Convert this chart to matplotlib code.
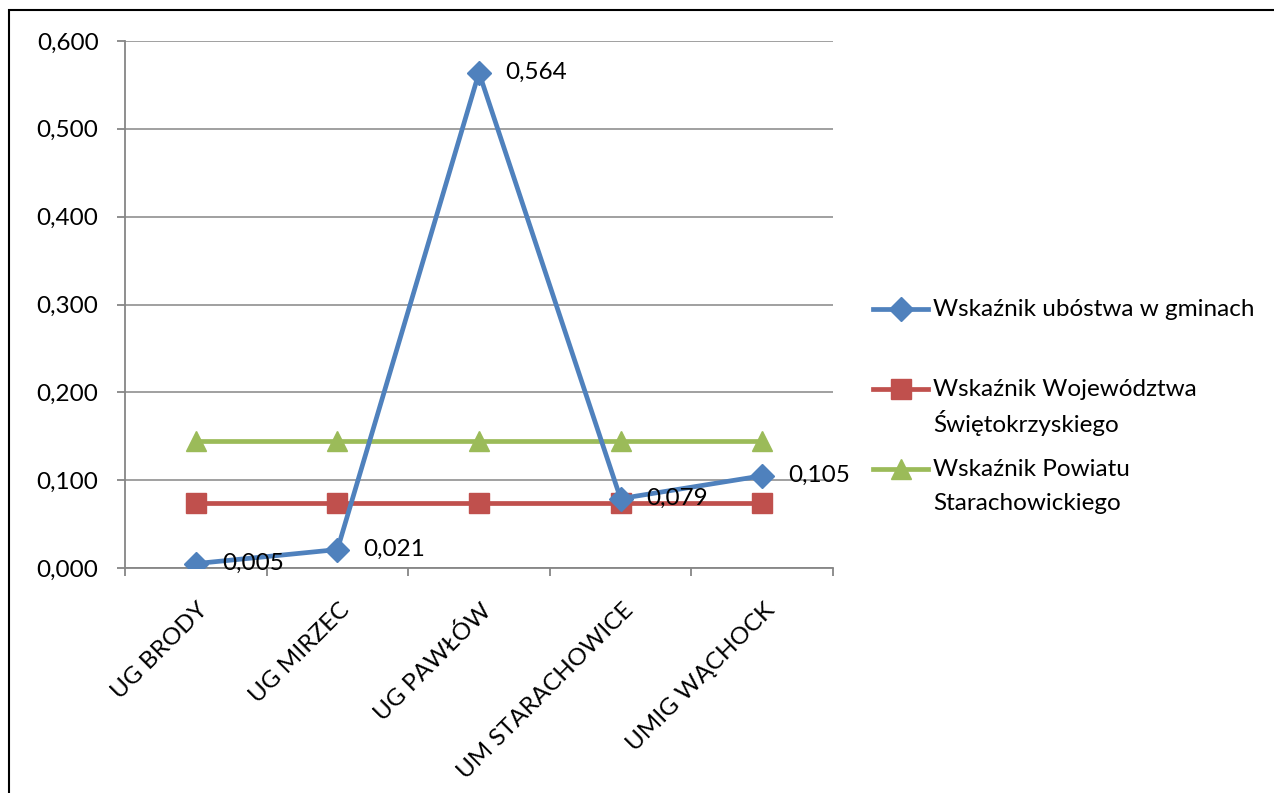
import matplotlib
matplotlib.use("Agg")
import matplotlib.pyplot as plt
from matplotlib.lines import Line2D
from matplotlib.patches import Rectangle
from matplotlib.ticker import FuncFormatter, FixedLocator
from matplotlib.transforms import ScaledTranslation

categories = ["UG BRODY", "UG MIRZEC", "UG PAWŁÓW", "UM STARACHOWICE", "UMIG WĄCHOCK"]
gminy = [0.005, 0.021, 0.564, 0.079, 0.105]
wojewodztwo = [0.074, 0.074, 0.074, 0.074, 0.074]
powiat = [0.145, 0.145, 0.145, 0.145, 0.145]
series_labels = ["Wskaźnik ubóstwa w gminach",
                 "Wskaźnik Województwa\nŚwiętokrzyskiego",
                 "Wskaźnik Powiatu\nStarachowickiego"]
yticks = [0.0, 0.1, 0.2, 0.3, 0.4, 0.5, 0.6]

BLUE = "#4F81BD"
RED = "#C0504D"
GREEN = "#9BBB59"
GRID = "#868686"
FONT = "Lato"
FS = 17.5
LW = 3.4

plt.rcParams["font.family"] = [FONT, "DejaVu Sans"]

W, H = 1274, 793
fig = plt.figure(figsize=(W / 100, H / 100), dpi=100)

def fx(x):
    return x / W

def fy(y):
    return 1 - y / H

ax = fig.add_axes([fx(125), fy(568), fx(833) - fx(125), fy(41) - fy(568)])

x = list(range(len(categories)))
ax.plot(x, powiat, color=GREEN, lw=LW, marker="^", ms=14.5, zorder=3)
ax.plot(x, wojewodztwo, color=RED, lw=LW, marker="s", ms=14.5, zorder=4)
ax.plot(x, gminy, color=BLUE, lw=LW, marker="D", ms=12.5, zorder=5)

for xi, v in zip(x, gminy):
    ax.annotate(f"{v:.3f}".replace(".", ","), (xi, v), xytext=(18.7, 0),
                textcoords="offset points", ha="left", va="center",
                fontsize=FS, color="black", zorder=6)

ax.set_xlim(-0.5, len(categories) - 0.5)
ax.set_ylim(0, 0.6)
ax.set_yticks(yticks)
ax.yaxis.set_major_formatter(FuncFormatter(lambda v, p: f"{v:.3f}".replace(".", ",")))
ax.grid(axis="y", color=GRID, lw=1.1)
ax.set_axisbelow(True)

for s in ["top", "right"]:
    ax.spines[s].set_visible(False)
for s in ["left", "bottom"]:
    ax.spines[s].set_color(GRID)
    ax.spines[s].set_linewidth(1.3)

ax.tick_params(axis="y", length=6, width=1.3, color=GRID, pad=13, labelsize=FS)
ax.set_xticks(x)
ax.set_xticklabels(categories, rotation=45, ha="right", va="center",
                   rotation_mode="anchor", fontsize=FS)
ax.xaxis.set_minor_locator(FixedLocator([i - 0.5 for i in range(len(categories) + 1)]))
ax.tick_params(axis="x", which="major", length=0, pad=28)
ax.tick_params(axis="x", which="minor", length=6, width=1.3, color=GRID)
for lbl in ax.get_xticklabels():
    lbl.set_transform(lbl.get_transform() + ScaledTranslation(0.09, 0, fig.dpi_scale_trans))

# legend (manual)
handles = [(BLUE, "D", 12.5), (RED, "s", 14.5), (GREEN, "^", 14.5)]
ys = [309, 389, 469]
for (c, m, ms), yy, lab in zip(handles, ys, series_labels):
    fig.add_artist(Line2D([fx(873), fx(928)], [fy(yy), fy(yy)], color=c, lw=LW,
                          transform=fig.transFigure))
    fig.add_artist(Line2D([fx(900.5)], [fy(yy)], color=c, marker=m, ms=ms,
                          transform=fig.transFigure))
    for k, line in enumerate(lab.split("\n")):
        fig.text(fx(933), fy(yy + 34 * k), line, ha="left", va="center", fontsize=FS)

# outer border
fig.add_artist(Rectangle((fx(9), -0.1), 1.2, fy(10) + 0.1, fill=False,
                         edgecolor="black", lw=1.5, transform=fig.transFigure))

fig.savefig("out.png", dpi=100)
